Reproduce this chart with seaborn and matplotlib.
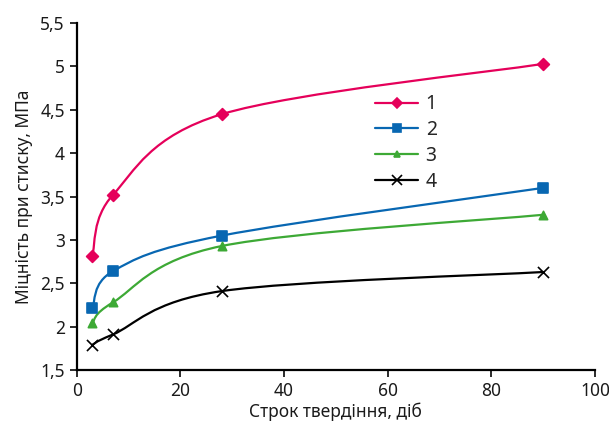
import matplotlib
matplotlib.use("Agg")
import matplotlib.pyplot as plt
from matplotlib.path import Path
from matplotlib.patches import PathPatch
import numpy as np
import pandas as pd
import seaborn as sns

days = [3, 7, 28, 90]
s1 = [2.82, 3.52, 4.45, 5.03]
s2 = [2.21, 2.64, 3.05, 3.60]
s3 = [2.04, 2.28, 2.93, 3.29]
s4 = [1.79, 1.91, 2.41, 2.63]
labels = ["1", "2", "3", "4"]

y_ticks = [1.5, 2, 2.5, 3, 3.5, 4, 4.5, 5, 5.5]
y_tick_labels = ["1,5", "2", "2,5", "3", "3,5", "4", "4,5", "5", "5,5"]
x_ticks = [0, 20, 40, 60, 80, 100]

colors = ["#E5005A", "#0867B2", "#3DA935", "#000000"]
markers = ["D", "s", "^", "x"]
msizes = [6, 7, 6, 8]

rows = []
for lab, vals in zip(labels, [s1, s2, s3, s4]):
    for d, v in zip(days, vals):
        rows.append({"day": d, "value": v, "series": lab})
df = pd.DataFrame(rows)

sns.set_style("white")
plt.rcParams["font.family"] = ["Noto Sans", "DejaVu Sans"]

fig = plt.figure(figsize=(6.09, 4.28), dpi=100)
ax = fig.add_axes([0.126, 0.1355, 0.851, 0.8105])


def smooth_path(xs, ys):
    # Excel-like smoothed line: cubic Bezier (Catmull-Rom) through the points
    pts = np.column_stack([xs, ys]).astype(float)
    n = len(pts)
    verts = [pts[0]]
    codes = [Path.MOVETO]
    for i in range(n - 1):
        p_prev = pts[i - 1] if i > 0 else pts[i]
        p_next2 = pts[i + 2] if i + 2 < n else pts[i + 1]
        c1 = pts[i] + (pts[i + 1] - p_prev) / 6
        c2 = pts[i + 1] - (p_next2 - pts[i]) / 6
        verts += [c1, c2, pts[i + 1]]
        codes += [Path.CURVE4] * 3
    return Path(verts, codes)


for lab, col, mk, ms in zip(labels, colors, markers, msizes):
    sub = df[df["series"] == lab]
    ax.add_patch(PathPatch(smooth_path(sub["day"], sub["value"]),
                           facecolor="none", edgecolor=col, lw=1.6, zorder=2))
    sns.scatterplot(data=sub, x="day", y="value", ax=ax, color=col, marker=mk,
                    s=ms ** 2, edgecolor=col if mk != "x" else None,
                    linewidth=1.2, zorder=3)

handles = [plt.Line2D([], [], color=c, marker=m, markersize=s - 1, lw=1.6,
                      markeredgewidth=1.2)
           for c, m, s in zip(colors, markers, msizes)]
ax.legend(handles, labels, loc="upper left", bbox_to_anchor=(0.542, 0.845),
          frameon=False, fontsize=14, handlelength=2.2, labelspacing=0.3,
          handletextpad=0.4)

ax.set_xlim(0, 100)
ax.set_ylim(1.5, 5.5)
ax.set_xticks(x_ticks)
ax.set_yticks(y_ticks)
ax.set_yticklabels(y_tick_labels)
ax.set_xlabel("Строк твердіння, діб", fontsize=12.5, color="#1a1a1a",
              labelpad=2)
ax.set_ylabel("Міцність при стиску, МПа", fontsize=12.5, color="#1a1a1a",
              labelpad=5)
ax.tick_params(axis="both", direction="out", length=5, width=1.3,
               labelsize=12.5, colors="#1a1a1a", left=True, bottom=True)
for side in ["top", "right"]:
    ax.spines[side].set_visible(False)
for side in ["left", "bottom"]:
    ax.spines[side].set_color("black")
    ax.spines[side].set_linewidth(1.6)

fig.savefig("out.png", dpi=100)
